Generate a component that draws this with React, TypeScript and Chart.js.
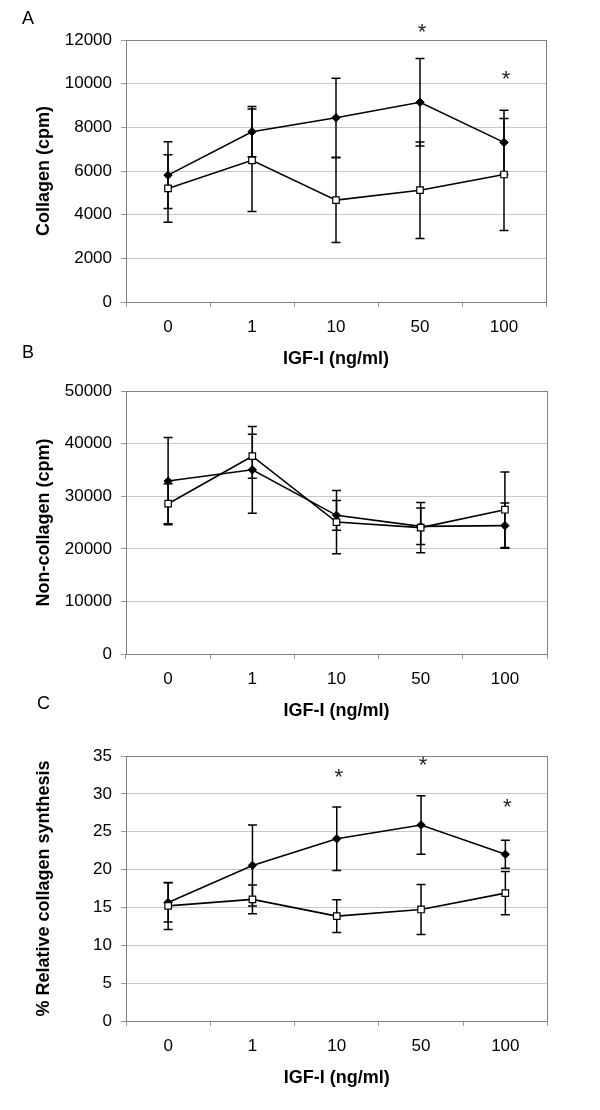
import React, { useEffect, useRef } from 'react';
import { Chart, registerables } from 'chart.js';

Chart.register(...registerables);

// ---------- data ----------
const doses = ['0', '1', '10', '50', '100'];

// Panel A: Collagen (cpm)
const collagenFilled = [5810, 7800, 8440, 9150, 7310];
const collagenFilledErr = [1530, 1150, 1810, 2000, 1470];
const collagenOpen = [5200, 6490, 4665, 5120, 5840];
const collagenOpenErr = [1550, 2350, 1940, 2210, 2570];
const collagenStars = [null, null, null, 12560, 10380];

// Panel B: Non-collagen (cpm)
const nonCollagenFilled = [32900, 35050, 26380, 24290, 24420];
const nonCollagenFilledErr = [8300, 8250, 2840, 3470, 4300];
const nonCollagenOpen = [28600, 37630, 25100, 24040, 27450];
const nonCollagenOpenErr = [3800, 4170, 6020, 4800, 7200];
const nonCollagenStars = [null, null, null, null, null];

// Panel C: % Relative collagen synthesis
const relativeFilled = [15.66, 20.55, 24.07, 25.89, 22.01];
const relativeFilledErr = [2.6, 5.35, 4.2, 3.85, 1.85];
const relativeOpen = [15.2, 16.06, 13.85, 14.73, 16.89];
const relativeOpenErr = [3.1, 1.9, 2.15, 3.3, 2.85];
const relativeStars = [null, null, 32.76, 34.38, 28.76];

const FONT = '"Liberation Sans", Arial, sans-serif';

const decorPlugin = {
  id: 'decor',
  beforeDatasetsDraw(chart: any) {
    const { ctx, chartArea: a, scales } = chart;
    const y = scales.y;
    ctx.save();
    // plot frame
    ctx.strokeStyle = '#808080';
    ctx.lineWidth = 1;
    const l = Math.round(a.left - 0.5) + 0.5;
    const t = Math.round(a.top - 0.5) + 0.5;
    const r = Math.round(a.right - 0.5) + 0.5;
    const b = Math.round(a.bottom - 0.5) + 0.5;
    ctx.strokeRect(l, t, r - l, b - t);
    // error bars
    ctx.strokeStyle = '#000';
    ctx.lineWidth = 1.5;
    chart.data.datasets.forEach((ds: any, i: number) => {
      const meta = chart.getDatasetMeta(i);
      const errs = ds.errors || [];
      meta.data.forEach((pt: any, j: number) => {
        const v = ds.data[j];
        const e = errs[j];
        if (v == null || e == null) return;
        const yt = y.getPixelForValue(v + e);
        const yb = y.getPixelForValue(v - e);
        ctx.beginPath();
        ctx.moveTo(pt.x, yt);
        ctx.lineTo(pt.x, yb);
        ctx.moveTo(pt.x - 4.5, yt);
        ctx.lineTo(pt.x + 4.5, yt);
        ctx.moveTo(pt.x - 4.5, yb);
        ctx.lineTo(pt.x + 4.5, yb);
        ctx.stroke();
      });
    });
    ctx.restore();
  },
  afterDatasetsDraw(chart: any, _args: any, opts: any) {
    const stars: (number | null)[] = (opts && opts.stars) || [];
    const { ctx, scales } = chart;
    ctx.save();
    ctx.fillStyle = '#222';
    ctx.font = `22px ${FONT}`;
    ctx.textAlign = 'center';
    ctx.textBaseline = 'alphabetic';
    const m = ctx.measureText('*');
    const half = (m.actualBoundingBoxAscent - m.actualBoundingBoxDescent) / 2;
    stars.forEach((s, j) => {
      if (s == null) return;
      const x = scales.x.getPixelForValue(j) + 2;
      const yc = scales.y.getPixelForValue(s);
      ctx.fillText('*', x, yc + half);
    });
    ctx.restore();
  },
};

type PanelProps = {
  top: number;
  height: number;
  padTop: number;
  padRight: number;
  yMax: number;
  yStep: number;
  yTitle: string;
  filled: number[];
  filledErr: number[];
  open: number[];
  openErr: number[];
  stars: (number | null)[];
};

function Panel(p: PanelProps) {
  const ref = useRef<HTMLCanvasElement | null>(null);
  useEffect(() => {
    if (!ref.current) return;
    const chart = new Chart(ref.current, {
      type: 'line',
      data: {
        labels: doses,
        datasets: [
          {
            label: 'open',
            data: p.open,
            errors: p.openErr,
            borderColor: '#000',
            borderWidth: 1.6,
            pointStyle: 'rect',
            pointRadius: 4.6,
            pointBackgroundColor: '#fff',
            pointBorderColor: '#000',
            pointBorderWidth: 1.2,
            tension: 0,
          } as any,
          {
            label: 'filled',
            data: p.filled,
            errors: p.filledErr,
            borderColor: '#000',
            borderWidth: 1.6,
            pointStyle: 'rectRot',
            pointRadius: 4.2,
            pointBackgroundColor: '#000',
            pointBorderColor: '#000',
            pointBorderWidth: 1,
            tension: 0,
          } as any,
        ],
      },
      options: {
        animation: false,
        responsive: false,
        devicePixelRatio: 1,
        layout: { padding: { top: p.padTop, right: p.padRight, left: 0, bottom: 0 } },
        plugins: {
          legend: { display: false },
          tooltip: { enabled: false },
          decor: { stars: p.stars },
        } as any,
        scales: {
          x: {
            type: 'category',
            offset: true,
            grid: {
              offset: true,
              drawOnChartArea: false,
              drawTicks: true,
              tickLength: 5,
              tickColor: '#999',
            },
            border: { display: false },
            ticks: { color: '#000', font: { family: FONT, size: 17 }, padding: 10 },
            title: {
              display: true,
              text: 'IGF-I (ng/ml)',
              color: '#000',
              font: { family: FONT, size: 18, weight: 'bold' },
              padding: { top: 0, bottom: 2 },
            },
            afterFit: (s: any) => {
              s.height = 70;
            },
          },
          y: {
            type: 'linear',
            min: 0,
            max: p.yMax,
            grid: { color: '#c8c8c8', tickLength: 5, tickColor: '#999' },
            border: { display: false },
            ticks: {
              stepSize: p.yStep,
              color: '#000',
              font: { family: FONT, size: 17 },
              padding: 9,
              callback: (v: any) => String(v),
            },
            title: {
              display: true,
              text: p.yTitle,
              color: '#000',
              font: { family: FONT, size: 18, weight: 'bold' },
              padding: { top: 33, bottom: 0 },
            },
            afterFit: (s: any) => {
              s.width = 126;
            },
          },
        },
      } as any,
      plugins: [decorPlugin],
    });
    return () => chart.destroy();
  }, []);
  return (
    <canvas
      ref={ref}
      width={600}
      height={p.height}
      style={{ position: 'absolute', left: 0, top: p.top, width: 600, height: p.height }}
    />
  );
}

const letterStyle = (left: number, top: number): React.CSSProperties => ({
  position: 'absolute',
  left,
  top,
  fontFamily: FONT,
  fontSize: 18,
  lineHeight: '18px',
  color: '#000',
});

export default function App() {
  return (
    <div
      style={{
        position: 'absolute',
        left: 0,
        top: 0,
        width: 600,
        height: 1110,
        background: '#fff',
        overflow: 'hidden',
      }}
    >
      <Panel
        top={0}
        height={372}
        padTop={40}
        padRight={54}
        yMax={12000}
        yStep={2000}
        yTitle="Collagen (cpm)"
        filled={collagenFilled}
        filledErr={collagenFilledErr}
        open={collagenOpen}
        openErr={collagenOpenErr}
        stars={collagenStars}
      />
      <Panel
        top={372}
        height={352}
        padTop={18.5}
        padRight={53}
        yMax={50000}
        yStep={10000}
        yTitle="Non-collagen (cpm)"
        filled={nonCollagenFilled}
        filledErr={nonCollagenFilledErr}
        open={nonCollagenOpen}
        openErr={nonCollagenOpenErr}
        stars={nonCollagenStars}
      />
      <Panel
        top={724}
        height={367}
        padTop={32}
        padRight={52.5}
        yMax={35}
        yStep={5}
        yTitle="% Relative collagen synthesis"
        filled={relativeFilled}
        filledErr={relativeFilledErr}
        open={relativeOpen}
        openErr={relativeOpenErr}
        stars={relativeStars}
      />
      <div style={letterStyle(22, 8.7)}>A</div>
      <div style={letterStyle(22, 343.2)}>B</div>
      <div style={letterStyle(37, 694.2)}>C</div>
    </div>
  );
}
